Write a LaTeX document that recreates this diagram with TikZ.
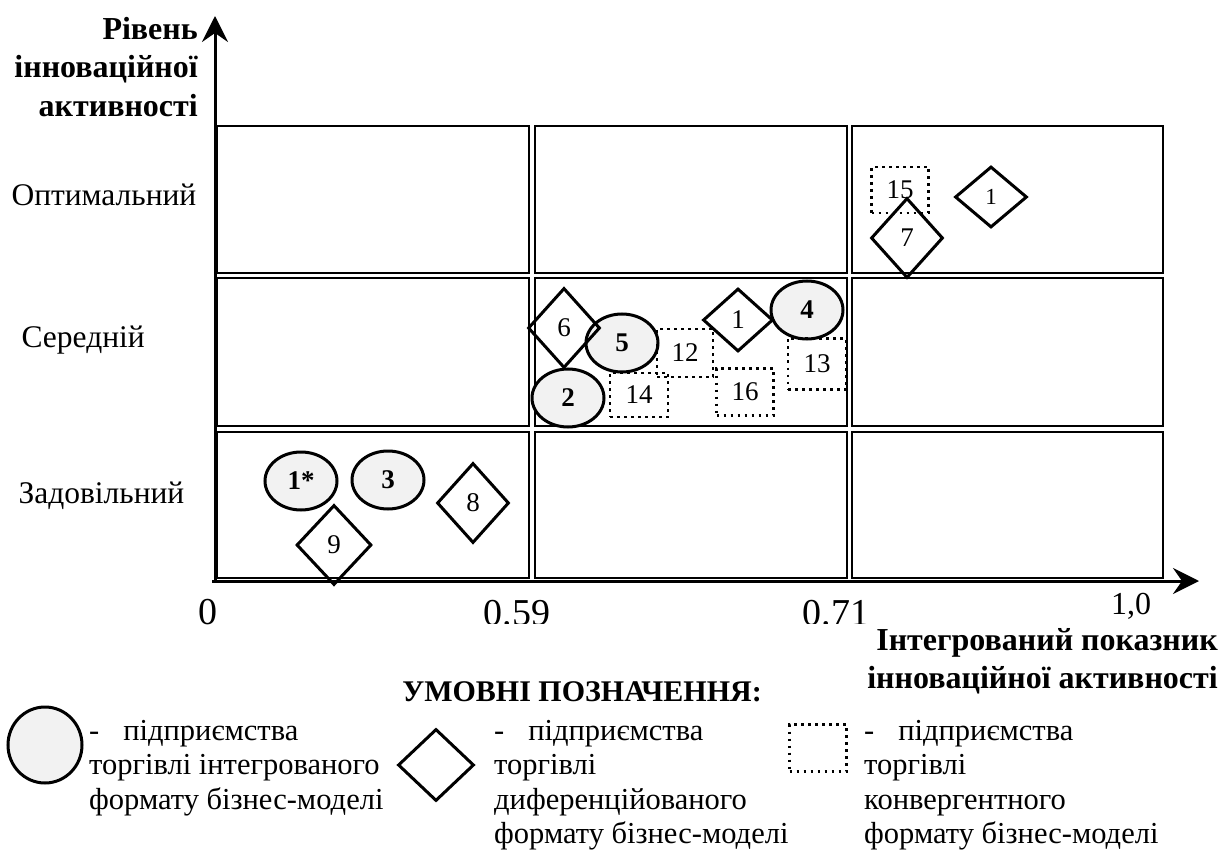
\documentclass[tikz,border=0pt]{standalone}
\usepackage{fontspec}
\setmainfont{Liberation Serif}
\usetikzlibrary{shapes.geometric,arrows.meta}
\definecolor{firmfill}{RGB}{242,242,242}
\begin{document}
\begin{tikzpicture}[x=1pt,y=-1pt,
  cell/.style={draw,line width=1.6pt},
  integ/.style={ellipse,draw,line width=3pt,fill=firmfill,inner sep=0pt,
    minimum width=72pt,minimum height=58pt,font=\fontsize{27}{27}\selectfont\bfseries},
  diff/.style={diamond,draw,line width=3pt,inner sep=0pt,
    minimum width=72pt,minimum height=80pt,font=\fontsize{27}{27}\selectfont},
  conv/.style={draw,line width=2.6pt,dash pattern=on 2.6pt off 4.4pt,inner sep=0pt,
    font=\fontsize{27}{27}\selectfont},
  axis/.style={line width=3pt,-{Stealth[length=26pt,width=26pt,inset=9pt]}},
  lvl/.style={anchor=base west,font=\fontsize{31.5}{31.5}\selectfont},
  tick/.style={font=\fontsize{38}{38}\selectfont},
  head/.style={font=\fontsize{32}{38.5}\selectfont\bfseries},
  legtext/.style={anchor=north west,align=left,inner sep=0pt,
    font=\fontsize{30.5}{34.5}\selectfont},
]
\useasboundingbox (0,0) rectangle (1227,853);

% grid of cells
\foreach \xa/\xb in {217/529,535/847,852/1163}
  \foreach \ya/\yb in {126/273,278/426,432/578}
    \draw[cell] (\xa,\ya) rectangle (\xb,\yb);

% axes
\coordinate (o) at (215,581);
\coordinate (ytip) at (215,16);
\coordinate (xtip) at (1199,581);
\draw[axis] (o) -- (ytip);
\draw[axis] (212,581) -- (xtip);

% axis titles
\node[head,anchor=north east,align=right,inner sep=0pt] (ytitle) at (198,17)
  {Рівень\\інноваційної\\активності};
\node[head,anchor=north east,align=right,inner sep=0pt] (xtitle) at (1218,628)
  {Інтегрований показник\\інноваційної активності};

% level labels
\node[lvl] (opt) at (8,206) {Оптимальний};
\node[lvl] (mid) at (18,348) {Середній};
\node[lvl] (low) at (15,503) {Задовільний};

% scale values
\node[tick] (t0) at (208,612) {0};
\begin{scope}
  \clip (470,590) rectangle (880,623);
  \node[tick] (t59) at (517,613) {0.59};
  \node[tick] (t71) at (836,613) {0.71};
\end{scope}
\node[tick,font=\fontsize{32}{32}\selectfont] (t10) at (1131,606) {1,0};

% integrated-format firms
\node[integ] (e1) at (301,481) {1*};
\node[integ] (e3) at (388,480) {3};
\node[integ] (e2) at (568,398) {2};
\node[integ] (e5) at (622,343) {5};
\node[integ] (e4) at (807,310) {4};

% convergent-format firms
\node[conv,minimum width=57pt,minimum height=46pt] (c15) at (900,190) {15};
\node[conv,minimum width=56pt,minimum height=48pt] (c12) at (685,353) {12};
\node[conv,minimum width=58pt,minimum height=44pt] (c14) at (639,395) {14};
\node[conv,minimum width=57pt,minimum height=47pt] (c16) at (745,392) {16};
\node[conv,minimum width=58pt,minimum height=51pt] (c13) at (817,364) {13};

% differentiated-format firms
\node[diff] (d6) at (564,328) {6};
\node[diff,minimum height=63pt,minimum width=70pt] (d1m) at (738,320) {1};
\node[diff,minimum height=61pt,minimum width=72pt,font=\fontsize{23}{23}\selectfont] (d1r) at (991,197) {1};
\node[diff] (d7) at (907,238) {7};
\node[diff] (d8) at (473,503) {8};
\node[diff,minimum width=75pt] (d9) at (334,545) {9};

% legend
\node[head,font=\fontsize{30}{30}\selectfont\bfseries] (legtitle) at (582,692) {УМОВНІ ПОЗНАЧЕННЯ:};
\node[ellipse,draw,line width=3pt,fill=firmfill,minimum width=74pt,minimum height=76pt] (le) at (45,745) {};
\node[legtext] (lt1) at (89,720)
  {-\hspace{24pt}підприємства\\торгівлі інтегрованого\\формату бізнес-моделі};
\node[diamond,draw,line width=3pt,inner sep=0pt,minimum width=76pt,minimum height=72pt] (ld) at (436,765) {};
\node[legtext] (lt2) at (494,720)
  {-\hspace{24pt}підприємства\\торгівлі\\диференційованого\\формату бізнес-моделі};
\node[conv,minimum width=57pt,minimum height=47pt] (lc) at (818,748) {};
\node[legtext] (lt3) at (864,720)
  {-\hspace{24pt}підприємства\\торгівлі\\конвергентного\\формату бізнес-моделі};
\end{tikzpicture}
\end{document}
